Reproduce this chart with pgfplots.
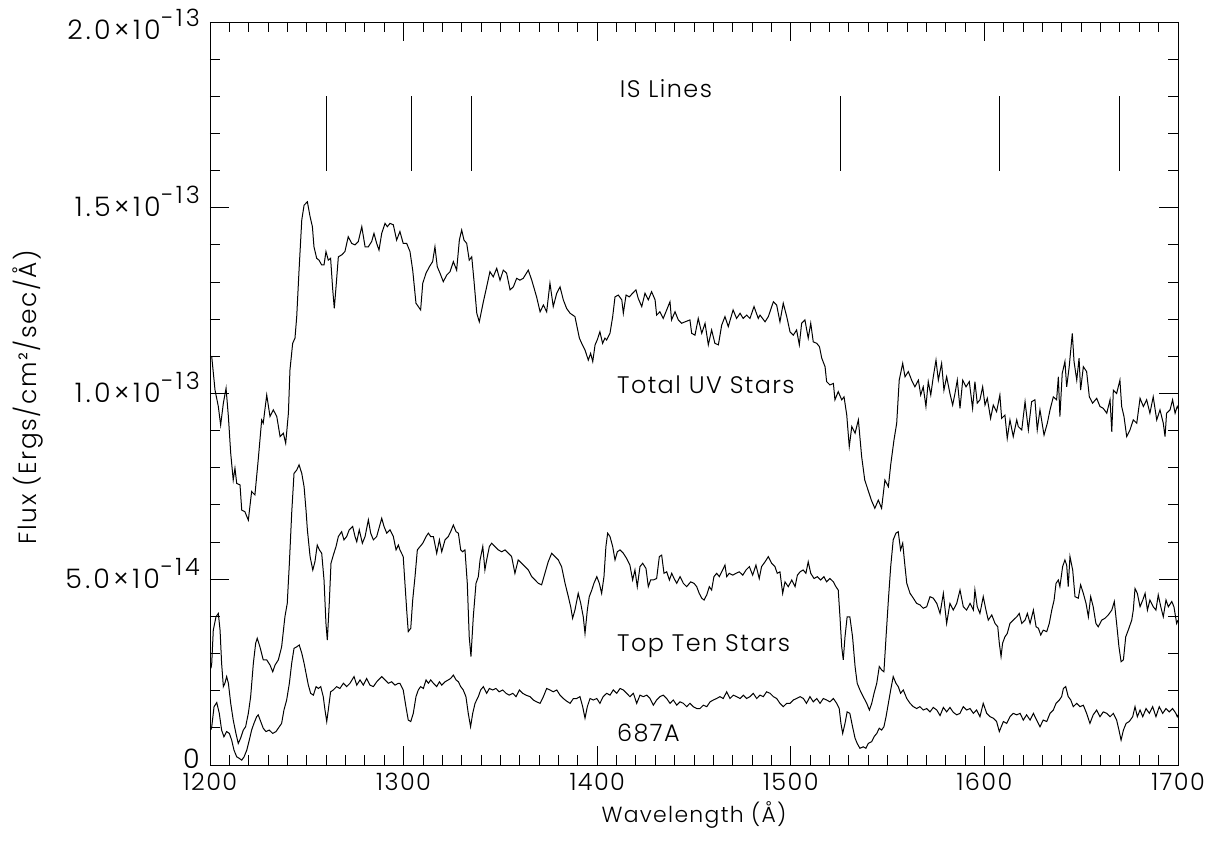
\documentclass[border=0pt]{standalone}
\usepackage{fontspec}
\setmainfont{Poppins}[UprightFont=* Light]
\newfontfamily\hfont{Poppins}[UprightFont=* Light, LetterSpace=6]
\newfontfamily\yfont{Poppins}[UprightFont=* Light, LetterSpace=12]
\usepackage{pgfplots}
\usepackage{pgfplotstable}
\pgfplotsset{compat=1.18}
\newcommand\sci[2]{\yfont\fontsize{27}{30}\selectfont #1×10\raisebox{13bp}{\fontsize{24}{24}\selectfont −#2}}
% flux in units of 1e-14 ergs/cm2/sec/A
\pgfplotstableread[row sep=\\]{x y\\
1200.5 11.0\\ 1200.9 10.99\\ 1202.6 10.09\\ 1204.3 9.65\\ 1205.5 9.15\\ 1206.9 9.74\\ 1208.3 10.14\\ 1209.5 9.38\\ 1210.7 8.39\\ 1212.0 7.67\\
1212.9 7.99\\ 1213.8 7.58\\ 1215.5 7.54\\ 1216.4 6.86\\ 1218.0 6.82\\ 1219.8 6.59\\ 1221.5 7.36\\ 1223.2 7.27\\ 1224.9 8.21\\ 1226.7 9.29\\
1227.5 9.20\\ 1229.3 9.96\\ 1231.0 9.38\\ 1232.7 9.56\\ 1234.5 9.38\\ 1236.2 8.84\\ 1237.9 8.93\\ 1239.1 8.66\\ 1240.5 9.47\\ 1241.3 10.63\\
1242.7 11.35\\ 1243.9 11.49\\ 1244.8 12.07\\ 1246.0 13.32\\ 1247.4 14.67\\ 1248.6 15.07\\ 1250.3 15.16\\ 1251.7 14.76\\ 1252.9 14.49\\ 1253.7 13.95\\
1255.1 13.64\\ 1256.3 13.59\\ 1257.7 13.46\\ 1258.9 13.46\\ 1259.9 13.82\\ 1261.1 13.59\\ 1262.3 13.64\\ 1263.4 12.79\\ 1264.2 12.29\\ 1265.1 12.87\\
1266.3 13.68\\ 1268.0 13.73\\ 1269.7 13.82\\ 1271.4 14.22\\ 1273.2 14.04\\ 1274.9 14.00\\ 1276.6 14.09\\ 1278.4 14.49\\ 1280.1 13.95\\ 1281.8 13.95\\
1283.5 14.09\\ 1284.7 14.31\\ 1286.1 14.04\\ 1287.3 13.86\\ 1288.7 14.31\\ 1290.4 14.58\\ 1291.6 14.49\\ 1293.0 14.58\\ 1294.7 14.54\\ 1296.4 14.13\\
1298.1 14.36\\ 1299.8 14.04\\ 1301.6 14.04\\ 1303.3 13.82\\ 1304.7 13.32\\ 1306.4 12.43\\ 1307.6 12.34\\ 1308.8 12.25\\ 1309.9 12.97\\ 1311.6 13.24\\
1313.3 13.41\\ 1315.0 13.55\\ 1316.2 13.95\\ 1317.4 13.41\\ 1318.8 13.24\\ 1320.5 13.01\\ 1322.3 13.19\\ 1324.0 13.28\\ 1325.7 13.55\\ 1327.4 13.32\\
1328.8 14.13\\ 1330.0 14.40\\ 1331.2 14.13\\ 1332.6 14.04\\ 1333.9 13.59\\ 1335.2 13.68\\ 1336.4 13.01\\ 1337.8 12.16\\ 1339.1 11.93\\ 1341.2 12.47\\
1342.9 12.87\\ 1344.6 13.28\\ 1346.3 13.14\\ 1348.1 13.37\\ 1349.8 13.05\\ 1351.5 13.32\\ 1353.2 13.24\\ 1355.0 12.79\\ 1356.7 12.87\\ 1358.4 13.10\\
1360.1 13.05\\ 1361.8 13.10\\ 1364.4 13.32\\ 1366.2 13.05\\ 1368.7 12.60\\ 1370.5 12.20\\ 1372.2 12.38\\ 1373.9 12.20\\ 1375.6 12.97\\ 1377.3 12.34\\
1379.1 12.70\\ 1380.8 12.87\\ 1382.5 12.52\\ 1384.2 12.29\\ 1386.0 12.16\\ 1388.5 12.07\\ 1390.8 11.49\\ 1392.0 11.35\\ 1393.7 11.17\\ 1395.4 10.90\\
1396.6 11.08\\ 1397.7 10.86\\ 1398.9 11.31\\ 1400.0 11.44\\ 1401.4 11.66\\ 1402.8 11.35\\ 1404.0 11.49\\ 1404.9 11.44\\ 1406.6 11.62\\ 1408.0 12.07\\
1409.2 12.60\\ 1410.9 12.65\\ 1412.7 12.52\\ 1413.5 12.16\\ 1414.9 12.65\\ 1416.6 12.60\\ 1418.3 12.70\\ 1420.0 12.79\\ 1421.2 12.56\\ 1423.0 12.34\\
1424.7 12.70\\ 1426.4 12.52\\ 1428.1 12.74\\ 1429.9 12.52\\ 1430.7 12.11\\ 1432.4 12.20\\ 1434.1 12.02\\ 1435.9 12.25\\ 1437.6 12.47\\ 1438.4 11.98\\
1440.2 12.20\\ 1441.9 11.98\\ 1443.6 11.89\\ 1445.4 11.93\\ 1447.9 11.98\\ 1448.8 11.62\\ 1450.5 11.57\\ 1452.2 12.02\\ 1454.0 11.62\\ 1455.7 11.89\\
1457.4 11.31\\ 1459.1 11.71\\ 1460.8 11.35\\ 1462.6 11.31\\ 1464.3 11.84\\ 1466.0 12.07\\ 1467.7 11.80\\ 1470.2 12.25\\ 1472.0 12.02\\ 1473.8 12.16\\
1475.4 12.02\\ 1477.2 12.11\\ 1478.9 12.02\\ 1481.0 12.34\\ 1483.2 12.02\\ 1484.1 12.11\\ 1486.7 11.93\\ 1488.4 12.07\\ 1491.0 12.47\\ 1492.7 12.38\\
1494.4 11.93\\ 1496.1 12.43\\ 1497.9 12.07\\ 1499.6 11.66\\ 1501.3 11.57\\ 1503.0 11.71\\ 1504.4 11.31\\ 1505.6 11.89\\ 1507.3 11.98\\ 1509.0 11.49\\
1510.3 11.89\\ 1511.6 11.39\\ 1513.4 11.35\\ 1514.8 11.26\\ 1516.0 10.95\\ 1517.7 10.72\\ 1518.5 10.32\\ 1520.2 10.23\\ 1522.0 10.27\\ 1522.8 9.83\\
1524.5 10.05\\ 1526.3 9.83\\ 1527.5 9.91\\ 1528.9 9.42\\ 1530.2 8.57\\ 1531.5 9.11\\ 1533.2 8.93\\ 1534.9 9.29\\ 1536.6 8.30\\ 1538.2 7.67\\
1539.9 7.40\\ 1541.6 7.13\\ 1543.4 6.91\\ 1545.2 7.13\\ 1546.9 6.91\\ 1548.6 7.67\\ 1550.4 7.49\\ 1551.6 8.08\\ 1553.3 8.75\\ 1554.7 9.20\\
1556.0 10.36\\ 1557.8 10.81\\ 1559.0 10.45\\ 1560.7 10.59\\ 1562.4 10.36\\ 1564.1 10.18\\ 1565.9 10.36\\ 1567.1 9.96\\ 1568.4 10.18\\ 1569.8 9.65\\
1571.0 10.32\\ 1572.3 9.96\\ 1573.6 10.45\\ 1575.0 10.90\\ 1576.2 10.36\\ 1577.9 10.81\\ 1579.1 10.09\\ 1580.5 10.45\\ 1582.2 10.00\\ 1583.6 9.69\\
1584.8 10.00\\ 1586.0 10.36\\ 1587.4 9.60\\ 1588.8 10.36\\ 1590.5 10.18\\ 1592.2 10.32\\ 1593.9 9.60\\ 1595.1 10.32\\ 1596.3 9.74\\ 1597.7 9.83\\
1599.1 10.18\\ 1600.3 9.69\\ 1601.5 9.87\\ 1603.2 9.33\\ 1604.6 9.69\\ 1606.3 9.51\\ 1608.0 9.96\\ 1608.9 9.33\\ 1610.6 9.42\\ 1611.8 8.79\\
1613.2 9.29\\ 1614.9 8.84\\ 1616.7 9.29\\ 1617.5 9.11\\ 1619.3 9.02\\ 1621.0 9.78\\ 1622.7 9.02\\ 1624.4 9.78\\ 1626.1 9.83\\ 1627.3 9.02\\
1628.7 9.56\\ 1630.8 8.88\\ 1632.5 9.20\\ 1633.9 9.56\\ 1635.6 9.91\\ 1637.3 9.83\\ 1638.2 10.45\\ 1639.0 9.38\\ 1640.2 10.54\\ 1641.6 10.86\\
1642.5 10.18\\ 1643.8 10.72\\ 1644.6 11.17\\ 1645.4 11.62\\ 1646.3 10.86\\ 1647.7 10.36\\ 1648.9 10.95\\ 1649.7 10.09\\ 1651.1 10.72\\ 1652.8 10.59\\
1654.2 9.91\\ 1655.9 9.74\\ 1658.0 9.87\\ 1659.7 9.65\\ 1661.4 9.60\\ 1663.2 9.47\\ 1664.9 9.83\\ 1665.8 8.97\\ 1666.6 10.09\\ 1668.3 10.00\\
1670.0 10.36\\ 1670.9 9.65\\ 1672.1 9.38\\ 1673.5 8.84\\ 1675.2 9.02\\ 1676.9 9.29\\ 1678.7 9.20\\ 1680.4 9.87\\ 1682.1 9.65\\ 1683.8 9.83\\
1685.5 9.47\\ 1687.2 9.91\\ 1689.0 9.29\\ 1690.7 9.56\\ 1692.4 9.20\\ 1693.3 8.84\\ 1694.1 9.47\\ 1695.9 9.56\\ 1697.2 9.83\\ 1698.5 9.47\\
1699.6 9.65\\ 1700.0 9.60\\
}\totaluv
\pgfplotstableread[row sep=\\]{x y\\
1200.5 2.60\\ 1200.9 2.74\\ 1201.7 3.63\\ 1203.1 3.99\\ 1204.3 4.08\\ 1205.2 3.63\\ 1206.0 2.74\\ 1206.9 2.11\\ 1207.7 2.20\\ 1208.6 2.38\\
1209.5 2.20\\ 1210.7 1.66\\ 1212.0 1.21\\ 1213.4 0.85\\ 1214.6 0.58\\ 1215.8 0.72\\ 1217.2 0.94\\ 1218.4 1.03\\ 1219.8 1.39\\ 1221.0 1.84\\
1222.4 2.74\\ 1223.6 3.28\\ 1224.4 3.41\\ 1225.8 3.18\\ 1227.5 2.83\\ 1229.3 2.83\\ 1231.0 2.69\\ 1232.4 2.51\\ 1233.6 2.69\\ 1235.3 2.83\\
1237.0 3.18\\ 1238.7 3.99\\ 1239.9 4.35\\ 1241.0 5.43\\ 1242.2 6.78\\ 1243.4 7.85\\ 1244.8 7.94\\ 1246.0 8.08\\ 1247.4 7.85\\ 1248.6 7.49\\
1249.6 6.86\\ 1250.3 6.33\\ 1251.7 5.61\\ 1253.1 5.25\\ 1254.2 5.47\\ 1255.4 5.92\\ 1256.5 5.79\\ 1257.7 5.70\\ 1258.9 4.98\\ 1259.9 3.81\\
1260.6 3.36\\ 1261.6 4.35\\ 1262.5 5.43\\ 1263.7 5.65\\ 1265.1 5.88\\ 1266.3 6.15\\ 1268.0 6.28\\ 1269.2 6.06\\ 1270.6 6.15\\ 1271.9 6.33\\
1273.7 6.42\\ 1274.9 6.15\\ 1275.8 6.01\\ 1277.1 6.33\\ 1278.7 5.97\\ 1280.1 6.15\\ 1281.8 6.60\\ 1283.0 6.24\\ 1284.4 6.06\\ 1286.1 6.15\\
1288.7 6.64\\ 1289.9 6.42\\ 1291.3 6.24\\ 1293.0 6.33\\ 1294.7 6.15\\ 1296.1 5.79\\ 1297.3 5.92\\ 1298.1 5.79\\ 1299.8 5.61\\ 1300.7 4.89\\
1301.6 4.17\\ 1302.4 3.59\\ 1303.7 3.68\\ 1304.7 4.44\\ 1305.9 5.07\\ 1307.1 5.79\\ 1308.5 5.88\\ 1309.9 5.97\\ 1311.6 6.15\\ 1312.8 6.24\\
1314.0 6.15\\ 1315.4 6.15\\ 1317.1 5.70\\ 1318.5 6.06\\ 1319.7 5.74\\ 1321.4 6.06\\ 1323.1 6.15\\ 1324.3 6.28\\ 1325.7 6.46\\ 1327.1 6.28\\
1328.3 6.24\\ 1329.5 5.79\\ 1330.5 5.74\\ 1331.7 5.79\\ 1332.9 4.89\\ 1333.9 3.45\\ 1334.8 2.92\\ 1336.0 3.99\\ 1337.4 4.89\\ 1338.6 5.07\\
1339.5 5.52\\ 1340.9 5.88\\ 1342.0 5.25\\ 1342.9 5.52\\ 1344.3 5.88\\ 1345.5 5.97\\ 1347.2 5.88\\ 1348.9 5.79\\ 1350.7 5.74\\ 1352.4 5.79\\
1354.1 5.70\\ 1355.8 5.61\\ 1357.5 5.16\\ 1359.2 5.52\\ 1361.0 5.43\\ 1362.7 5.34\\ 1364.4 5.25\\ 1366.2 5.07\\ 1367.9 4.98\\ 1369.6 4.89\\
1371.3 4.85\\ 1373.0 5.16\\ 1374.7 5.47\\ 1376.5 5.70\\ 1378.2 5.61\\ 1379.9 5.52\\ 1381.6 5.34\\ 1383.4 4.89\\ 1385.1 4.53\\ 1386.3 4.26\\
1387.3 3.95\\ 1388.5 4.17\\ 1390.2 4.62\\ 1391.5 4.35\\ 1392.8 3.99\\ 1393.7 3.54\\ 1394.9 4.17\\ 1395.9 4.53\\ 1397.2 4.71\\ 1398.3 4.89\\
1399.8 5.07\\ 1401.1 4.89\\ 1402.3 4.62\\ 1403.5 5.07\\ 1404.5 5.88\\ 1405.4 6.24\\ 1406.6 6.15\\ 1408.0 5.88\\ 1409.2 5.52\\ 1410.4 5.74\\
1411.8 5.79\\ 1413.5 5.70\\ 1415.2 5.56\\ 1416.9 5.38\\ 1418.3 4.98\\ 1419.5 5.25\\ 1420.7 4.80\\ 1422.1 5.34\\ 1423.5 5.43\\ 1425.2 5.29\\
1426.4 4.80\\ 1427.6 4.98\\ 1429.0 4.98\\ 1430.7 5.02\\ 1432.1 5.61\\ 1433.3 5.65\\ 1434.5 5.16\\ 1435.9 5.20\\ 1437.3 4.98\\ 1438.5 5.16\\
1439.7 5.02\\ 1441.1 4.89\\ 1442.8 5.07\\ 1444.5 4.89\\ 1446.2 4.80\\ 1448.3 4.93\\ 1450.0 4.89\\ 1451.4 4.80\\ 1452.7 4.62\\ 1454.0 4.49\\
1455.2 4.44\\ 1456.6 4.58\\ 1457.9 4.80\\ 1459.1 4.71\\ 1460.3 5.07\\ 1461.7 5.16\\ 1463.1 5.07\\ 1464.3 5.20\\ 1466.0 5.38\\ 1466.9 5.07\\
1468.2 5.16\\ 1470.0 5.11\\ 1471.7 5.16\\ 1473.4 5.20\\ 1475.2 5.11\\ 1476.9 5.25\\ 1478.6 5.34\\ 1480.3 5.11\\ 1482.0 5.38\\ 1483.7 5.02\\
1484.9 5.34\\ 1486.7 5.47\\ 1488.4 5.61\\ 1490.1 5.43\\ 1491.8 5.34\\ 1493.0 5.16\\ 1494.4 5.20\\ 1495.8 4.62\\ 1497.0 4.93\\ 1498.7 4.80\\
1500.5 4.98\\ 1502.2 4.80\\ 1503.4 5.11\\ 1504.8 5.20\\ 1506.4 5.25\\ 1507.8 5.16\\ 1509.0 5.47\\ 1510.3 5.16\\ 1512.0 5.02\\ 1513.7 5.07\\
1515.4 4.98\\ 1517.1 5.07\\ 1518.5 4.93\\ 1520.2 5.02\\ 1522.0 4.93\\ 1523.3 4.80\\ 1524.5 4.71\\ 1525.4 3.99\\ 1526.3 3.18\\ 1527.1 2.83\\
1528.0 3.45\\ 1529.1 3.99\\ 1530.5 3.99\\ 1531.9 3.45\\ 1533.2 2.65\\ 1534.3 2.20\\ 1535.7 2.02\\ 1537.4 1.84\\ 1539.2 1.66\\ 1540.6 1.48\\
1541.8 1.66\\ 1543.0 1.93\\ 1544.4 2.20\\ 1545.7 2.65\\ 1546.9 2.56\\ 1548.1 2.51\\ 1549.2 3.45\\ 1550.4 4.44\\ 1551.6 5.34\\ 1552.9 6.06\\
1554.3 6.24\\ 1555.5 6.28\\ 1556.7 5.79\\ 1557.8 5.97\\ 1559.0 5.34\\ 1559.9 4.89\\ 1561.6 4.62\\ 1563.3 4.49\\ 1565.0 4.35\\ 1566.7 4.31\\
1568.4 4.22\\ 1570.2 4.26\\ 1571.9 4.53\\ 1573.6 4.49\\ 1575.4 4.35\\ 1577.1 4.08\\ 1578.8 4.62\\ 1580.5 3.81\\ 1582.2 4.35\\ 1583.9 4.17\\
1585.7 4.35\\ 1587.4 4.71\\ 1589.1 4.26\\ 1590.8 4.17\\ 1592.6 4.35\\ 1594.3 4.17\\ 1595.1 4.71\\ 1596.3 4.26\\ 1597.7 4.08\\ 1599.4 4.53\\
1600.8 4.17\\ 1602.0 3.90\\ 1603.8 4.04\\ 1605.5 3.81\\ 1606.9 3.72\\ 1607.7 3.28\\ 1608.6 2.92\\ 1609.4 3.28\\ 1610.6 3.45\\ 1611.8 3.54\\
1613.2 3.81\\ 1614.9 3.90\\ 1616.7 3.99\\ 1618.0 4.08\\ 1619.3 3.81\\ 1621.0 3.90\\ 1622.2 4.08\\ 1623.6 3.81\\ 1625.3 4.17\\ 1626.7 3.72\\
1627.9 3.68\\ 1629.1 3.50\\ 1630.4 3.63\\ 1632.2 3.59\\ 1633.5 3.81\\ 1634.8 4.17\\ 1636.0 4.44\\ 1637.0 4.89\\ 1638.2 4.98\\ 1639.0 4.80\\
1640.4 5.34\\ 1641.6 5.52\\ 1642.5 5.38\\ 1643.3 4.80\\ 1644.2 5.61\\ 1645.6 5.25\\ 1646.8 4.53\\ 1648.5 4.49\\ 1649.7 4.85\\ 1651.1 4.62\\
1652.5 4.35\\ 1653.7 3.99\\ 1654.9 4.53\\ 1656.2 4.26\\ 1657.6 3.81\\ 1658.8 3.72\\ 1660.6 3.90\\ 1662.3 3.95\\ 1664.0 4.04\\ 1665.8 4.17\\
1667.1 4.40\\ 1668.3 3.81\\ 1669.5 3.18\\ 1670.6 2.78\\ 1671.8 2.83\\ 1673.0 3.45\\ 1674.3 3.63\\ 1676.1 3.90\\ 1676.9 4.17\\ 1677.8 4.75\\
1679.0 4.62\\ 1680.4 4.26\\ 1681.8 4.44\\ 1683.0 4.62\\ 1684.2 4.17\\ 1685.5 4.44\\ 1687.2 4.26\\ 1688.6 4.17\\ 1689.8 4.58\\ 1691.1 4.26\\
1692.4 3.99\\ 1693.8 4.44\\ 1695.0 4.26\\ 1696.8 4.40\\ 1697.9 4.26\\ 1699.3 3.81\\ 1700.0 3.90\\
}\topten
\pgfplotstableread[row sep=\\]{x y\\
1200.5 0.95\\ 1200.9 1.03\\ 1202.1 1.57\\ 1203.5 1.68\\ 1204.8 1.39\\ 1206.0 0.94\\ 1207.2 0.76\\ 1208.6 0.90\\ 1210.0 0.85\\ 1211.2 0.67\\
1212.4 0.40\\ 1213.8 0.22\\ 1215.1 0.18\\ 1216.4 0.13\\ 1217.6 0.22\\ 1219.0 0.40\\ 1220.3 0.67\\ 1221.5 0.94\\ 1222.7 1.12\\ 1224.1 1.30\\
1224.9 1.35\\ 1226.2 1.17\\ 1227.5 0.99\\ 1228.9 0.90\\ 1230.6 0.94\\ 1232.4 0.85\\ 1234.1 0.90\\ 1235.8 1.03\\ 1237.0 1.12\\ 1238.2 1.48\\
1239.6 1.75\\ 1241.0 2.20\\ 1242.2 2.74\\ 1243.4 3.14\\ 1244.8 3.18\\ 1246.1 3.23\\ 1247.4 3.01\\ 1248.6 2.74\\ 1249.6 2.47\\ 1250.8 2.15\\
1252.0 1.93\\ 1253.4 1.88\\ 1254.8 2.11\\ 1256.0 2.06\\ 1257.2 2.11\\ 1258.5 1.84\\ 1259.4 1.48\\ 1260.3 1.17\\ 1261.1 1.48\\ 1262.3 1.97\\
1263.7 2.02\\ 1265.4 2.11\\ 1267.1 2.06\\ 1268.9 2.20\\ 1270.6 2.11\\ 1272.3 2.20\\ 1274.4 2.38\\ 1275.8 2.15\\ 1277.5 2.29\\ 1279.2 2.15\\
1280.9 2.33\\ 1282.6 2.15\\ 1284.4 2.11\\ 1286.1 2.24\\ 1288.7 2.38\\ 1290.4 2.29\\ 1292.1 2.20\\ 1293.8 2.24\\ 1295.6 2.15\\ 1297.3 2.20\\
1298.1 2.20\\ 1299.8 2.02\\ 1301.2 1.57\\ 1302.4 1.21\\ 1303.7 1.17\\ 1305.0 1.39\\ 1306.4 1.84\\ 1307.6 2.02\\ 1308.8 2.11\\ 1310.2 2.06\\
1311.6 2.29\\ 1312.8 2.20\\ 1314.0 2.29\\ 1315.4 2.20\\ 1317.1 2.11\\ 1318.5 2.24\\ 1319.7 2.15\\ 1321.4 2.24\\ 1323.1 2.29\\ 1324.3 2.33\\
1325.7 2.42\\ 1327.1 2.29\\ 1328.3 2.24\\ 1329.5 2.11\\ 1330.8 2.02\\ 1332.2 1.84\\ 1333.4 1.39\\ 1334.6 1.03\\ 1335.7 1.39\\ 1336.9 1.66\\
1338.6 1.84\\ 1339.8 2.02\\ 1341.2 2.11\\ 1342.9 1.93\\ 1344.3 2.06\\ 1346.0 2.02\\ 1347.7 2.06\\ 1349.4 1.97\\ 1351.2 2.02\\ 1352.9 1.93\\
1354.6 1.88\\ 1356.4 1.93\\ 1358.1 1.84\\ 1359.8 2.02\\ 1361.5 1.93\\ 1363.2 1.88\\ 1365.3 1.84\\ 1367.0 1.75\\ 1368.7 1.70\\ 1370.5 1.66\\
1372.2 1.84\\ 1373.9 2.06\\ 1375.6 2.02\\ 1377.3 1.97\\ 1379.1 2.02\\ 1380.8 1.88\\ 1382.5 1.79\\ 1384.2 1.72\\ 1386.0 1.66\\ 1387.7 1.79\\
1389.4 1.79\\ 1391.1 1.84\\ 1392.5 1.57\\ 1393.7 1.26\\ 1394.9 1.57\\ 1396.3 1.79\\ 1398.0 1.75\\ 1399.8 1.79\\ 1401.4 1.66\\ 1403.1 1.84\\
1404.9 1.93\\ 1406.6 1.88\\ 1408.3 2.02\\ 1410.1 1.93\\ 1411.8 2.06\\ 1413.5 2.02\\ 1415.2 1.93\\ 1416.9 1.84\\ 1418.7 1.93\\ 1420.4 1.66\\
1422.1 1.88\\ 1423.8 1.84\\ 1425.6 1.88\\ 1427.3 1.79\\ 1429.0 1.61\\ 1430.7 1.75\\ 1432.4 1.84\\ 1434.1 1.88\\ 1435.9 1.79\\ 1437.6 1.66\\
1439.3 1.75\\ 1441.1 1.61\\ 1442.8 1.70\\ 1444.5 1.66\\ 1446.2 1.57\\ 1447.9 1.66\\ 1449.6 1.57\\ 1451.4 1.52\\ 1453.1 1.52\\ 1454.8 1.61\\
1456.6 1.57\\ 1458.3 1.70\\ 1460.0 1.75\\ 1461.7 1.79\\ 1463.4 1.84\\ 1465.1 1.79\\ 1466.9 1.97\\ 1468.6 1.79\\ 1470.3 1.88\\ 1472.0 1.84\\
1473.8 1.79\\ 1475.5 1.88\\ 1477.2 1.79\\ 1478.9 1.84\\ 1480.6 1.93\\ 1482.4 1.79\\ 1484.1 1.88\\ 1485.8 1.84\\ 1487.5 1.97\\ 1489.3 1.93\\
1491.0 1.84\\ 1492.7 1.79\\ 1494.4 1.66\\ 1496.1 1.57\\ 1497.9 1.66\\ 1499.6 1.66\\ 1501.3 1.75\\ 1503.0 1.79\\ 1504.8 1.84\\ 1506.5 1.79\\
1508.1 1.66\\ 1509.9 1.84\\ 1511.6 1.70\\ 1513.4 1.79\\ 1515.1 1.66\\ 1516.8 1.79\\ 1518.5 1.75\\ 1520.2 1.70\\ 1522.0 1.79\\ 1523.7 1.66\\
1525.0 1.52\\ 1525.9 1.12\\ 1526.8 0.85\\ 1528.0 1.12\\ 1529.1 1.43\\ 1530.5 1.39\\ 1531.9 1.03\\ 1533.2 0.72\\ 1534.3 0.58\\ 1535.7 0.45\\
1537.4 0.49\\ 1538.8 0.45\\ 1540.0 0.58\\ 1541.8 0.63\\ 1543.0 0.76\\ 1544.4 0.85\\ 1545.7 0.99\\ 1546.9 0.94\\ 1548.1 1.03\\ 1549.2 1.30\\
1550.4 1.66\\ 1551.6 2.02\\ 1552.9 2.38\\ 1554.3 2.20\\ 1555.5 2.11\\ 1556.7 1.93\\ 1558.1 2.02\\ 1559.9 1.79\\ 1561.6 1.66\\ 1563.3 1.57\\
1565.0 1.52\\ 1566.7 1.57\\ 1568.4 1.48\\ 1570.2 1.52\\ 1571.9 1.43\\ 1573.6 1.55\\ 1575.4 1.48\\ 1577.1 1.33\\ 1578.8 1.55\\ 1580.5 1.43\\
1582.2 1.55\\ 1583.9 1.42\\ 1585.7 1.35\\ 1587.4 1.39\\ 1589.1 1.57\\ 1590.8 1.48\\ 1592.6 1.52\\ 1594.3 1.39\\ 1596.0 1.48\\ 1597.7 1.30\\
1599.4 1.66\\ 1601.2 1.39\\ 1602.9 1.30\\ 1604.6 1.26\\ 1606.3 1.17\\ 1607.7 0.90\\ 1608.4 0.99\\ 1609.8 1.17\\ 1611.5 1.12\\ 1613.2 1.30\\
1614.9 1.39\\ 1616.7 1.35\\ 1618.4 1.39\\ 1620.1 1.21\\ 1621.8 1.35\\ 1623.6 1.21\\ 1625.3 1.39\\ 1627.0 1.21\\ 1628.7 1.03\\ 1630.4 1.21\\
1632.2 1.17\\ 1633.9 1.39\\ 1635.6 1.48\\ 1637.0 1.66\\ 1638.7 1.75\\ 1639.9 1.84\\ 1640.8 2.06\\ 1642.0 2.11\\ 1643.3 1.84\\ 1644.6 1.75\\
1645.9 1.57\\ 1647.7 1.66\\ 1649.4 1.57\\ 1651.1 1.61\\ 1652.8 1.39\\ 1654.5 1.12\\ 1656.2 1.35\\ 1658.0 1.48\\ 1659.7 1.30\\ 1661.4 1.43\\
1663.2 1.39\\ 1664.9 1.30\\ 1666.6 1.39\\ 1668.3 1.21\\ 1669.5 0.94\\ 1670.6 0.67\\ 1671.8 0.94\\ 1673.2 1.12\\ 1674.8 1.17\\ 1676.6 1.30\\
1677.8 1.57\\ 1679.0 1.30\\ 1680.4 1.48\\ 1681.8 1.30\\ 1683.5 1.52\\ 1685.2 1.39\\ 1686.9 1.57\\ 1688.6 1.30\\ 1690.3 1.57\\ 1692.1 1.39\\
1693.8 1.52\\ 1695.5 1.43\\ 1697.2 1.52\\ 1698.9 1.39\\ 1699.6 1.30\\ 1700.0 1.35\\
}\starA
\begin{document}
\begin{tikzpicture}
\path[use as bounding box] (-210bp,-81bp) rectangle (1013bp,765bp);
\begin{axis}[
  at={(0,0)}, anchor=south west,
  scale only axis, width=968bp, height=743bp,
  xmin=1200, xmax=1700, ymin=0, ymax=20,
  xtick={1200,1300,1400,1500,1600,1700},
  xticklabels={1200,1300,1400,1500,1600,1700},
  ytick={0,5,10,15,20},
  yticklabels={\raisebox{6bp}{\yfont\fontsize{27}{30}\selectfont 0},\sci{5.0}{14},\sci{1.0}{13},\sci{1.5}{13},\raisebox{-9bp}{\sci{2.0}{13}}},
  minor x tick num=9, minor y tick num=4,
  major tick length=19bp, minor tick length=10bp,
  tick align=inside,
  axis line style={line width=0.9bp},
  every tick/.style={black, line width=0.9bp},
  tick label style={font=\hfont\fontsize{24}{28}\selectfont, inner sep=1bp},
  xticklabel style={anchor=center, yshift=-17bp},
  yticklabel style={anchor=base east, xshift=-9bp, yshift=-9bp},
  xlabel={Wavelength (Å)},
  ylabel={Flux (Ergs/cm²/sec/Å)},
  xlabel style={font=\hfont\fontsize{22}{26}\selectfont, at={(axis description cs:0.5,-0.067)}, anchor=center},
  ylabel style={font=\hfont\fontsize{25}{29}\selectfont, at={(axis description cs:-0.188,0.495)}, anchor=center},
  every axis plot/.append style={black, line width=1.0bp},
]
\addplot[mark=none] table[x=x,y=y] {\totaluv};
\addplot[mark=none] table[x=x,y=y] {\topten};
\addplot[mark=none] table[x=x,y=y] {\starA};
\addplot[mark=none, line width=0.9bp] coordinates {(1260.4,16) (1260.4,18)};
\addplot[mark=none, line width=0.9bp] coordinates {(1304.3,16) (1304.3,18)};
\addplot[mark=none, line width=0.9bp] coordinates {(1334.8,16) (1334.8,18)};
\addplot[mark=none, line width=0.9bp] coordinates {(1525.9,16) (1525.9,18)};
\addplot[mark=none, line width=0.9bp] coordinates {(1608.0,16) (1608.0,18)};
\addplot[mark=none, line width=0.9bp] coordinates {(1670.0,16) (1670.0,18)};
\node[font=\hfont\fontsize{24}{28}\selectfont, anchor=center] at (axis cs:1435.5,18.22) {IS Lines};
\node[font=\hfont\fontsize{24}{28}\selectfont, anchor=west, inner sep=0pt] at (axis cs:1410.2,10.23) {Total UV Stars};
\node[font=\hfont\fontsize{24}{28}\selectfont, anchor=west, inner sep=0pt] at (axis cs:1410.2,3.2) {Top Ten Stars};
\node[font=\hfont\fontsize{24}{28}\selectfont, anchor=west, inner sep=0pt] at (axis cs:1410.2,0.86) {687A};
\end{axis}
\end{tikzpicture}
\end{document}
